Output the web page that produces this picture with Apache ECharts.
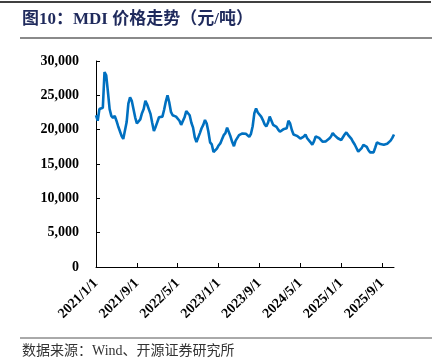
<!DOCTYPE html>
<html>
<head>
<meta charset="utf-8">
<script src="https://cdn.jsdelivr.net/npm/echarts@6/dist/echarts.min.js"></script>
<style>html,body{margin:0;padding:0;background:#fff;}#c{width:440px;height:361px;}</style>
</head>
<body>
<div id="c"></div>
<script>
// Dates: 1st, 11th, 21st of each month, 2021/1/1 .. 2025/11/11
var dates = [];
(function(){
  for (var y = 2021; y <= 2025; y++) {
    for (var m = 1; m <= 12; m++) {
      var days = [1, 11, 21];
      for (var k = 0; k < 3; k++) {
        if (y === 2025 && (m > 11 || (m === 11 && days[k] > 11))) continue;
        dates.push(y + '/' + m + '/' + days[k]);
      }
    }
  }
})();

var tickLabels = ['2021/1/1','2021/9/1','2022/5/1','2023/1/1','2023/9/1','2024/5/1','2025/1/1','2025/9/1'];

var mdiPrice = [
22100,21300,23000,23100,23200,28400,27900,25500,23000,22000,
21700,22000,21300,20500,19800,19100,18650,18700,21100,23800,
24700,24200,23000,21800,20900,20900,21500,22400,23000,24200,
23700,23000,22300,21000,19800,20400,21100,21800,21900,21900,
22900,24100,25000,24000,22600,22100,22000,21900,21700,21300,
20700,20600,21800,22700,22900,22100,21000,20300,18900,18200,
18350,19500,20200,20700,21400,20900,19700,18150,17850,16750,
16550,17250,17700,18000,18600,19200,19500,20300,20300,19000,
18200,17600,18400,18800,19200,19400,19450,19500,19400,19200,
18950,19400,20500,22400,23100,22500,22700,21900,21400,20800,
20450,21000,21900,22100,20700,20450,20400,20000,19700,19950,
20050,20100,20200,21300,20900,19950,19300,19150,19100,19000,
18700,18500,19000,19300,18750,18500,18150,17800,18300,19000,
19100,18800,18550,18250,18150,18300,18450,18700,19000,19500,
19200,18950,18750,18600,18500,18900,19300,19600,19250,18950,
18650,18200,17800,17300,16800,17000,17300,17800,17900,17500,
17000,16700,16550,16700,17400,18150,17900,17900,18000,17800,
17650,17950,18200,18400,18800,19300
];

var titleText = '图10：MDI 价格走势（元/吨）';
var sourceText = '数据来源：Wind、开源证券研究所';

var chart = echarts.init(document.getElementById('c'), null, {renderer: 'canvas'});
var serif = '"Liberation Serif","Times New Roman","Noto Sans CJK SC",serif';

function isTick(i, v) { return tickLabels.indexOf(v) >= 0; }

chart.setOption({
  animation: false,
  backgroundColor: '#fff',
  grid: {left: 96, right: 46, top: 61, bottom: 94, containLabel: false},
  xAxis: {
    type: 'category',
    data: dates,
    boundaryGap: false,
    axisLine: {lineStyle: {color: '#000', width: 1}},
    axisTick: {show: true, inside: true, length: 4, interval: isTick, lineStyle: {color: '#000'}},
    axisLabel: {
      interval: isTick,
      rotate: 45,
      margin: 14,
      fontFamily: serif,
      fontWeight: 'bold',
      fontSize: 14,
      color: '#000'
    },
    splitLine: {show: false}
  },
  yAxis: {
    type: 'value',
    min: 0,
    max: 30000,
    interval: 5000,
    axisLine: {show: true, lineStyle: {color: '#000', width: 1}},
    axisTick: {show: true, inside: true, length: 4, lineStyle: {color: '#000'}},
    axisLabel: {
      margin: 17,
      fontFamily: serif,
      fontWeight: 'bold',
      fontSize: 14,
      color: '#000',
      formatter: function (v) { return v.toString().replace(/\B(?=(\d{3})+(?!\d))/g, ','); }
    },
    splitLine: {show: false}
  },
  series: [{
    type: 'line',
    data: mdiPrice,
    showSymbol: false,
    symbol: 'none',
    lineStyle: {color: '#0070C0', width: 2.6},
    itemStyle: {color: '#0070C0'}
  }],
  graphic: [
    {type: 'line', shape: {x1: 0, y1: 2, x2: 431, y2: 2}, style: {stroke: '#000', lineWidth: 1.5}},
    {type: 'text', left: 22, top: 11, style: {text: titleText, fontFamily: '"Liberation Serif","Noto Sans CJK SC",serif', fontWeight: 'bold', fontSize: 17, fill: '#1F2A5C'}},
    {type: 'line', shape: {x1: 20, y1: 38, x2: 432, y2: 38}, style: {stroke: '#8a8a8a', lineWidth: 2}},
    {type: 'line', shape: {x1: 20, y1: 338, x2: 432, y2: 338}, style: {stroke: '#555', lineWidth: 1}},
    {type: 'text', left: 22, top: 344, style: {text: sourceText, fontFamily: '"Liberation Serif","Noto Sans CJK SC",serif', fontSize: 14, fill: '#333'}}
  ]
});
</script>
</body>
</html>
